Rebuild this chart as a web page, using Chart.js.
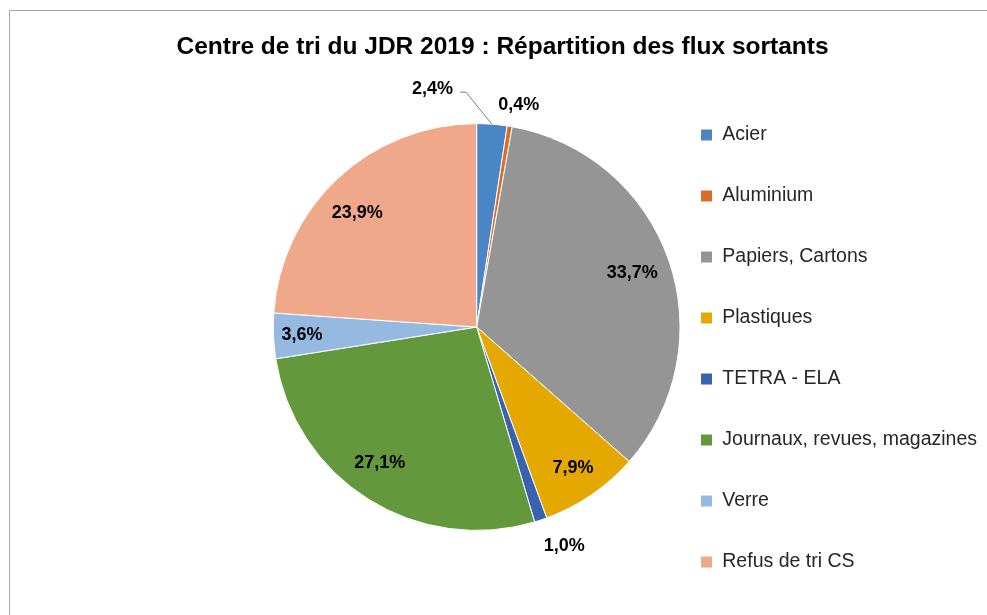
<!DOCTYPE html>
<html>
<head>
<meta charset="utf-8">
<style>
  html, body { margin: 0; padding: 0; background: #fff; overflow: hidden; }
  #frame { position: absolute; left: 9px; top: 10px; width: 1100px; height: 700px;
           border-top: 1px solid #a6a6a6; border-left: 1px solid #a6a6a6; }
  #title { position: absolute; left: 0; top: 31px; width: 1005px; text-align: center;
           font: bold 24.5px "Liberation Sans", Arial, sans-serif; line-height: 30px; color: #000; }
  #wrap { position: absolute; left: 0; top: 0; width: 987px; height: 615px; }
</style>
</head>
<body>
<div id="frame"></div>
<div id="wrap"><canvas id="myChart"></canvas></div>
<div id="title">Centre de tri du JDR 2019 : Répartition des flux sortants</div>

<script src="https://cdn.jsdelivr.net/npm/chart.js"></script>
<script>
// flux sortants, in % of the total
let categories = ['Acier', 'Aluminium', 'Papiers, Cartons', 'Plastiques', 'TETRA - ELA',
                  'Journaux, revues, magazines', 'Verre', 'Refus de tri CS'];
let shares = [2.4, 0.4, 33.7, 7.9, 1.0, 27.1, 3.6, 23.9];
let colors = ['#4a86c5', '#db6b27', '#959595', '#e5a800', '#3a62b0', '#63993c', '#96b9e2', '#f0a88a'];

// where each percentage sits: fraction of the radius, then a small nudge
let labelRadius = [1, 1.12, 0.8, 0.84, 1.15, 0.82, 0.86, 0.81];
let labelNudge = [[0, 0], [5, 3], [2, 0], [0, 0], [14, -3], [-8, -5], [0, 0], [-7, 6]];

function pct(v) {
  return v.toFixed(1).replace('.', ',') + '%';
}

const pctLabels = {
  id: 'pctLabels',
  afterDatasetsDraw(chart) {
    const ctx = chart.ctx;
    const arcs = chart.getDatasetMeta(0).data;
    ctx.save();
    ctx.font = 'bold 18px "Liberation Sans", Arial, sans-serif';
    ctx.fillStyle = '#000';
    ctx.textBaseline = 'middle';
    arcs.forEach((arc, i) => {
      const p = arc.getProps(['x', 'y', 'startAngle', 'endAngle', 'outerRadius'], true);
      const a = (p.startAngle + p.endAngle) / 2;
      if (i === 0) {
        // small slice at the top: label outside with a leader line
        const ax = p.x + Math.cos(a) * p.outerRadius;
        const ay = p.y + Math.sin(a) * p.outerRadius;
        ctx.strokeStyle = '#7f7f7f';
        ctx.lineWidth = 1;
        ctx.beginPath();
        ctx.moveTo(ax, ay);
        ctx.lineTo(ax - 26, ay - 32);
        ctx.lineTo(ax - 32, ay - 32);
        ctx.stroke();
        ctx.textAlign = 'right';
        ctx.fillText(pct(shares[i]), ax - 39, ay - 35);
        return;
      }
      const f = labelRadius[i];
      ctx.textAlign = 'center';
      ctx.fillText(pct(shares[i]),
        p.x + Math.cos(a) * p.outerRadius * f + labelNudge[i][0],
        p.y + Math.sin(a) * p.outerRadius * f + labelNudge[i][1]);
    });
    ctx.restore();
  }
};

const baseLabels = Chart.overrides.doughnut.plugins.legend.labels.generateLabels;

let ctx = document.getElementById('myChart').getContext('2d');
let chart = new Chart(ctx, {
  type: 'pie',
  data: {
    labels: categories,
    datasets: [{
      data: shares,
      backgroundColor: colors,
      borderColor: '#ffffff',
      borderWidth: 1
    }]
  },
  options: {
    responsive: true,
    maintainAspectRatio: false,
    animation: false,
    layout: { padding: { left: 272.75, right: 0, top: 40.75, bottom: 1.75 } },
    plugins: {
      title: { display: false },
      tooltip: { enabled: false },
      legend: {
        position: 'right',
        align: 'end',
        labels: {
          boxWidth: 12,
          boxHeight: 12,
          padding: 20,
          color: '#262626',
          font: { family: '"Liberation Sans", Arial, sans-serif', size: 19.5, lineHeight: '41px' },
          // one-line arrays so each row is 41px tall, like the spaced Excel legend
          generateLabels: (c) => baseLabels(c).map(item => Object.assign(item, { text: [item.text] }))
        }
      }
    }
  },
  plugins: [pctLabels]
});
</script>
</body>
</html>
